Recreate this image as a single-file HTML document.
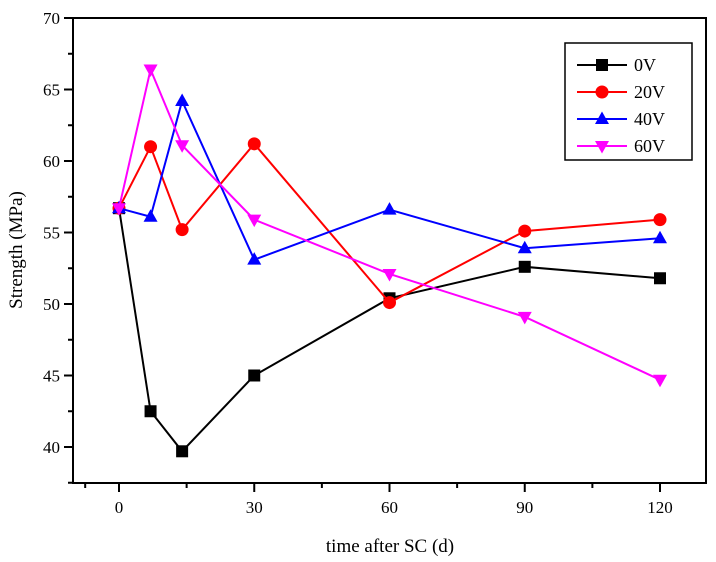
<!DOCTYPE html>
<html><head><meta charset="utf-8"><style>
body{margin:0;background:#fff}
svg{display:block;font-family:"Liberation Serif",serif}
</style></head><body>
<svg width="716" height="562" id="c"></svg>
<script>
const days=[0,7,14,30,60,90,120];
const s0V=[56.7,42.5,39.7,45,50.4,52.6,51.8];
const s20V=[56.7,61,55.2,61.2,50.1,55.1,55.9];
const s40V=[56.7,56.1,64.2,53.1,56.6,53.9,54.6];
const s60V=[56.7,66.4,61.1,55.9,52.1,49.1,44.7];
const xTicks=[0,30,60,90,120];
const yTicks=[40,45,50,55,60,65,70];
const L=73,R=706,T=18,B=483;
const X=d=>119+(d-0)*(660-119)/120;
const Y=v=>447-(v-40)*(447-18)/30;
const svg=document.getElementById('c');
const NS='http://www.w3.org/2000/svg';
function mk(t,a,p){const e=document.createElementNS(NS,t);for(const k in a)e.setAttribute(k,a[k]);(p||svg).appendChild(e);return e;}
let e=mk('rect',{x:L,y:T,width:R-L,height:B-T,fill:'none',stroke:'#000','stroke-width':2});


for(const t of xTicks){
 e=mk('line',{x1:X(t),x2:X(t),y1:B,y2:B+9,stroke:'#000','stroke-width':2});
 
 
 e=mk('line',{x1:X(t+15),x2:X(t+15),y1:B,y2:B+5,stroke:'#000','stroke-width':2});
 
 
 e=mk('text',{x:X(t),y:B+30,'text-anchor':'middle','font-size':17});e.textContent=t;
 
 
}
e=mk('line',{x1:X(-7.5),x2:X(-7.5),y1:B,y2:B+5,stroke:'#000','stroke-width':2});


for(const t of yTicks){
 e=mk('line',{x1:L-9,x2:L,y1:Y(t),y2:Y(t),stroke:'#000','stroke-width':2});
 
 
 e=mk('line',{x1:L-5,x2:L,y1:Y(t-2.5),y2:Y(t-2.5),stroke:'#000','stroke-width':2});
 
 
 e=mk('text',{x:L-13,y:Y(t)+6,'text-anchor':'end','font-size':17});e.textContent=t;
 
 
}
e=mk('text',{x:390,y:552,'text-anchor':'middle','font-size':19});e.textContent='time after SC (d)';


e=mk('text',{x:22,y:250,'text-anchor':'middle','font-size':19,transform:'rotate(-90 22 250)'});e.textContent='Strength (MPa)';


function marker(g,type,x,y,c){
 const s=6;
 if(type==='sq')return mk('rect',{x:x-s,y:y-s,width:2*s,height:2*s,fill:c},g);
 if(type==='ci')return mk('circle',{cx:x,cy:y,r:6.5,fill:c},g);
 if(type==='up')return mk('polygon',{points:`${x},${y-7.5} ${x-7},${y+5} ${x+7},${y+5}`,fill:c},g);
 return mk('polygon',{points:`${x},${y+7.5} ${x-7},${y-5} ${x+7},${y-5}`,fill:c},g);
}
const series=[['0V',s0V,'#000','sq'],['20V',s20V,'#f00','ci'],['40V',s40V,'#00f','up'],['60V',s60V,'#f0f','dn']];
series.forEach(([n,v,c,m])=>{
 const g=mk('g',{});
 
 
 e=mk('polyline',{points:v.map((y,i)=>X(days[i])+','+Y(y)).join(' '),fill:'none',stroke:c,'stroke-width':2},g);
 v.forEach((y,i)=>{e=marker(g,m,X(days[i]),Y(y),c);
  
  });
});
const lg=mk('g',{});


mk('rect',{x:565,y:43,width:127,height:117,fill:'#fff',stroke:'#000','stroke-width':1.5},lg);
series.forEach(([n,v,c,m],i)=>{
 const y=65+i*27;
 const g=mk('g',{},lg);
 
 
 mk('line',{x1:577,x2:627,y1:y,y2:y,stroke:c,'stroke-width':2},g);
 marker(g,m,602,y,c);
 const t=mk('text',{x:634,y:y+6,'font-size':18},g);t.textContent=n;
});
</script>
</body></html>
